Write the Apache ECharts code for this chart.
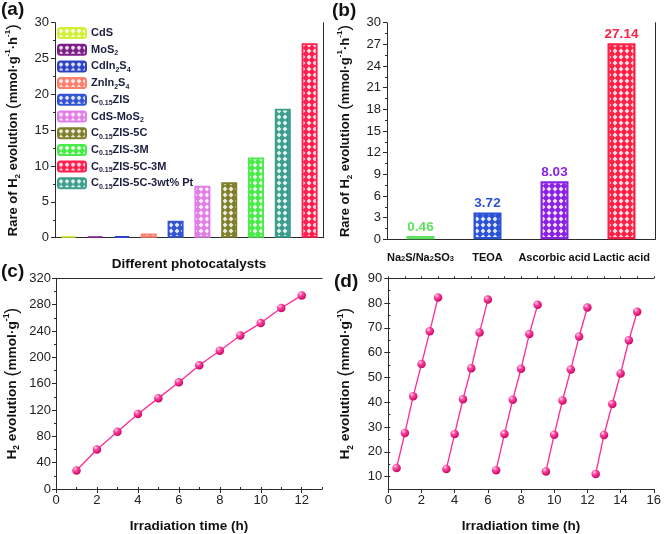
<!DOCTYPE html>
<html><head><meta charset="utf-8">
<script src="https://cdn.jsdelivr.net/npm/echarts@6/dist/echarts.min.js"></script>
<style>html,body{margin:0;padding:0;background:#fff}#c{width:664px;height:534px}</style>
</head><body><div id="c"></div>
<script>
// ---------- data ----------
const catalysts = ['CdS','MoS2','CdIn2S4','ZnIn2S4','C0.15ZIS','CdS-MoS2','C0.15ZIS-5C','C0.15ZIS-3M','C0.15ZIS-5C-3wt% Pt','C0.15ZIS-5C-3M'];
const catalystRates = [0.23, 0.14, 0.19, 0.6, 2.37, 7.26, 7.72, 11.2, 18.0, 27.14];
const legendOrder = ['CdS','MoS2','CdIn2S4','ZnIn2S4','C0.15ZIS','CdS-MoS2','C0.15ZIS-5C','C0.15ZIS-3M','C0.15ZIS-5C-3M','C0.15ZIS-5C-3wt% Pt'];
const agents = ['Na2S/Na2SO3','TEOA','Ascorbic acid','Lactic acid'];
const agentRates = [0.46, 3.72, 8.03, 27.14];
const timeC = [1,2,3,4,5,6,7,8,9,10,11,12];
const h2C = [28, 60, 87, 114, 138, 162, 188, 210, 233, 252, 275, 294];
const timeD = [0.5,1,1.5,2,2.5,3, 3.5,4,4.5,5,5.5,6, 6.5,7,7.5,8,8.5,9, 9.5,10,10.5,11,11.5,12, 12.5,13,13.5,14,14.5,15];
const h2D = [13.5,27.6,42.4,55.4,68.6,82.3, 13.1,27.2,41.2,53.7,68.1,81.4, 12.6,27.2,41.0,53.5,67.5,79.3, 12.1,26.9,40.7,53.2,66.5,78.2, 11.1,26.8,39.3,51.6,65.0,76.5];
const cycleLength = 6;
const yTicksD = [10,20,30,40,50,60,70,80,90];
const xTicksC = [0,2,4,6,8,10,12];
const xTicksD = [0,2,4,6,8,10,12,14,16];

// ---------- styles ----------
const FONT = 'Liberation Sans, Arial, sans-serif';
const catColors = ['#d2f03a','#7b1e86','#2d43c4','#ff7f6e','#3454d1','#e07ee6','#7f7f2c','#48ec48','#3c9e8c','#ff1f4f'];
const agentColors = ['#5ee05e','#2a52d4','#8a22e6','#ff1f45'];
const lineColor = '#ff2a93';

function hatch(color){
  const c = document.createElement('canvas'); c.width = 6; c.height = 6;
  const g = c.getContext('2d');
  g.fillStyle = color; g.fillRect(0,0,6,6);
  g.fillStyle = 'rgba(255,255,255,0.88)';
  g.beginPath(); g.moveTo(3,0.6); g.lineTo(5.4,3); g.lineTo(3,5.4); g.lineTo(0.6,3); g.closePath(); g.fill();
  return {image: c, repeat: 'repeat'};
}
function richName(n){ return n.replace(/([A-Za-z])(\d+(?:\.\d+)?)/g, '$1{s|$2}'); }

const sphere = {type:'radial', x:0.35, y:0.3, r:0.75, colorStops:[
  {offset:0, color:'#ffe0f0'},{offset:0.35, color:'#ff45a2'},{offset:1, color:'#c4005c'}]};

const axisLineS = {show:true, lineStyle:{color:'#2b2b2b', width:1}};
const labelS = {color:'#222', fontSize:13, fontFamily:FONT};
const tickS = {show:true, length:4, lineStyle:{color:'#2b2b2b'}};
const minorS = {show:true, splitNumber:2, length:2, lineStyle:{color:'#2b2b2b'}};
function makeRich(fs){
  return {
    b:{fontSize:fs, fontWeight:'bold', fontFamily:FONT, color:'#111', lineHeight:18},
    s:{fontSize:fs*0.62, fontWeight:'bold', fontFamily:FONT, color:'#111', lineHeight:9, verticalAlign:'bottom'},
    u:{fontSize:fs*0.62, fontWeight:'bold', fontFamily:FONT, color:'#111', lineHeight:9, verticalAlign:'top'},
    p:{fontSize:fs*1.3, fontFamily:FONT, color:'#111', lineHeight:18}
  };
}
const rateName = '{b|Rare of H}{s|2}{b| evolution }{p|(}{b|mmol·g}{u|-1}{b|·h}{u|-1}{p|)}';
const h2Name = '{b|H}{s|2}{b| evolution }{p|(}{b|mmol·g}{u|-1}{p|)}';
const xNameStyle = {fontSize:13.5, fontWeight:'bold', fontFamily:FONT, color:'#111'};

function frameX(gi){ return {type:'value', gridIndex:gi, position:'top', min:0, max:1, axisLine:axisLineS, axisTick:{show:false}, axisLabel:{show:false}, splitLine:{show:false}}; }
function frameY(gi){ return {type:'value', gridIndex:gi, position:'right', min:0, max:1, axisLine:axisLineS, axisTick:{show:false}, axisLabel:{show:false}, splitLine:{show:false}}; }

const grids = [
  {left:55, top:22.7, width:268, height:215},
  {left:387, top:22.7, width:268, height:216.6},
  {left:56, top:278.3, width:266.2, height:216.7},
  {left:388.3, top:278.3, width:266.7, height:216.7}
];

const xAxes = [
  {type:'category', gridIndex:0, data:catalysts, axisLine:{show:false}, axisTick:{show:false}, axisLabel:{show:false},
   name:'Different photocatalysts', nameLocation:'middle', nameGap:20, nameTextStyle:xNameStyle},
  frameX(0),
  {type:'category', gridIndex:1, data:agents, axisLine:{show:true, lineStyle:{color:'#2a2a7a', width:1.2}}, axisTick:{show:false},
   axisLabel:{color:'#111', fontSize:11, fontWeight:'bold', fontFamily:FONT, margin:13, interval:0,
     formatter: v => richName(v), rich:{s:{fontSize:7.5, fontWeight:'bold', fontFamily:FONT, color:'#111', lineHeight:7, verticalAlign:'bottom'}}}},
  frameX(1),
  {type:'value', gridIndex:2, min:0, max:13, axisLine:axisLineS, splitLine:{show:false},
   axisTick:Object.assign({}, tickS, {customValues:xTicksC}), axisLabel:Object.assign({}, labelS, {customValues:xTicksC, margin:5}),
   name:'Irradiation time (h)', nameLocation:'middle', nameGap:30, nameTextStyle:xNameStyle},
  {type:'value', gridIndex:2, min:0, max:13, interval:1, axisLine:{show:false}, splitLine:{show:false}, axisLabel:{show:false}, axisTick:{show:true, length:2, lineStyle:{color:'#2b2b2b'}}},
  frameX(2),
  {type:'value', gridIndex:3, min:0, max:16, axisLine:axisLineS, splitLine:{show:false},
   axisTick:Object.assign({}, tickS, {customValues:xTicksD}), axisLabel:Object.assign({}, labelS, {customValues:xTicksD, margin:5}),
   name:'Irradiation time (h)', nameLocation:'middle', nameGap:30, nameTextStyle:xNameStyle},
  {type:'value', gridIndex:3, min:0, max:16, interval:1, axisLine:{show:false}, splitLine:{show:false}, axisLabel:{show:false}, axisTick:{show:true, length:2, lineStyle:{color:'#2b2b2b'}}},
  frameX(3)
];

const yAxes = [
  {type:'value', gridIndex:0, min:0, max:30, interval:5, axisLine:axisLineS, axisTick:tickS, minorTick:minorS, splitLine:{show:false}, minorSplitLine:{show:false},
   axisLabel:Object.assign({}, labelS, {margin:6}),
   name:rateName, nameLocation:'middle', nameGap:33, nameTextStyle:{rich:makeRich(13)}},
  frameY(0),
  {type:'value', gridIndex:1, min:0, max:30, interval:3, axisLine:axisLineS, axisTick:tickS, minorTick:minorS, splitLine:{show:false},
   axisLabel:Object.assign({}, labelS, {margin:6}),
   name:rateName, nameLocation:'middle', nameGap:33, nameTextStyle:{rich:makeRich(13)}},
  frameY(1),
  {type:'value', gridIndex:2, min:0, max:320, interval:40, axisLine:axisLineS, axisTick:tickS, minorTick:minorS, splitLine:{show:false},
   axisLabel:Object.assign({}, labelS, {margin:5}),
   name:h2Name, nameLocation:'middle', nameGap:35, nameTextStyle:{rich:makeRich(13.7)}},
  frameY(2),
  {type:'value', gridIndex:3, min:5, max:90, axisLine:axisLineS, splitLine:{show:false},
   axisTick:Object.assign({}, tickS, {customValues:yTicksD}), axisLabel:Object.assign({}, labelS, {customValues:yTicksD, margin:6}),
   name:h2Name, nameLocation:'middle', nameGap:34, nameTextStyle:{rich:makeRich(13.7)}},
  {type:'value', gridIndex:3, min:5, max:90, interval:5, axisLine:{show:false}, splitLine:{show:false}, axisLabel:{show:false}, axisTick:{show:true, length:2, lineStyle:{color:'#2b2b2b'}}},
  frameY(3)
];

const series = [];
catalysts.forEach((name, i) => {
  series.push({type:'bar', name, xAxisIndex:0, yAxisIndex:0, barWidth:16, barGap:'-100%',
    data: catalysts.map((_, j) => j === i ? catalystRates[i] : '-'),
    itemStyle:{color:hatch(catColors[i]), borderColor:catColors[i], borderWidth:1.8}});
});
series.push({type:'bar', xAxisIndex:2, yAxisIndex:2, barWidth:28,
  data: agentRates.map((v, i) => ({value:v,
    itemStyle:{color:hatch(agentColors[i]), borderColor:agentColors[i], borderWidth:2.2},
    label:{color:agentColors[i]}})),
  label:{show:true, position:'top', distance:2, fontSize:13.5, fontWeight:'bold', fontFamily:FONT}});
const lineStyleCommon = {type:'line', symbol:'circle', symbolSize:8.5, lineStyle:{color:lineColor, width:1.3},
  itemStyle:{color:sphere, borderWidth:0}};
series.push(Object.assign({}, lineStyleCommon, {xAxisIndex:4, yAxisIndex:4, data: timeC.map((t, i) => [t, h2C[i]])}));
for (let k = 0; k < timeD.length; k += cycleLength) {
  series.push(Object.assign({}, lineStyleCommon, {xAxisIndex:7, yAxisIndex:6,
    data: timeD.slice(k, k + cycleLength).map((t, i) => [t, h2D[k + i]])}));
}

const panelFont = 'bold 19px ' + FONT;
const option = {
  animation:false,
  backgroundColor:'#fff',
  grid: grids,
  xAxis: xAxes,
  yAxis: yAxes,
  legend: {data:legendOrder, orient:'vertical', left:57, top:26, padding:0, itemWidth:28, itemHeight:10, itemGap:2.7, itemTextGap:4,
    formatter: n => richName(n), selectedMode:false,
    textStyle:{fontSize:11, fontWeight:'bold', fontFamily:FONT, color:'#1e1e40', lineHeight:14,
      rich:{s:{fontSize:7, fontWeight:'bold', fontFamily:FONT, color:'#1e1e40', lineHeight:7, verticalAlign:'bottom'}}}},
  graphic: [
    {type:'text', left:1, top:0, style:{text:'(a)', font:panelFont, fill:'#111'}},
    {type:'text', left:332, top:1, style:{text:'(b)', font:panelFont, fill:'#111'}},
    {type:'text', left:1, top:262, style:{text:'(c)', font:panelFont, fill:'#111'}},
    {type:'text', left:334, top:272, style:{text:'(d)', font:panelFont, fill:'#111'}}
  ],
  series
};
const chart = echarts.init(document.getElementById('c'), null, {renderer:'canvas'});
chart.setOption(option);
</script></body></html>
